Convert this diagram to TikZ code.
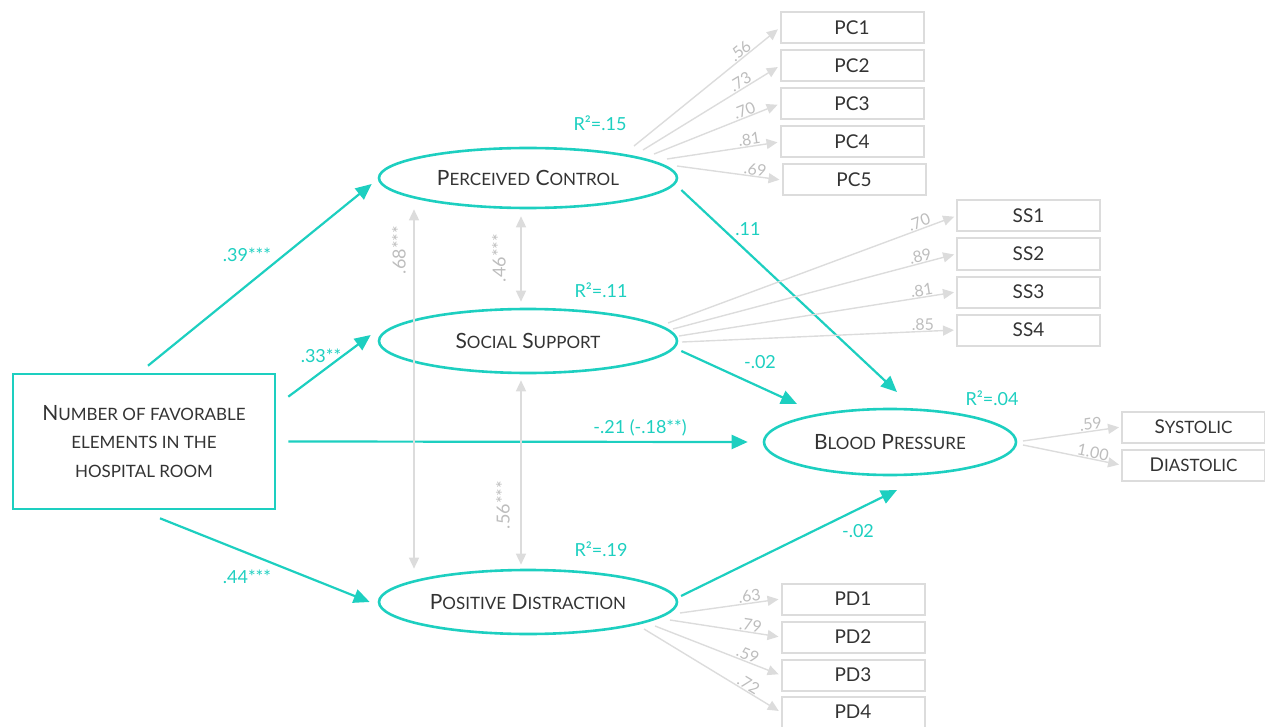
\documentclass[tikz,border=0pt]{standalone}
\usepackage{fontspec}
\setmainfont{Lato}
\usetikzlibrary{arrows.meta,shapes.geometric,calc}
\definecolor{teal1}{HTML}{1DCFC0}
\definecolor{lgray}{HTML}{DCDCDC}
\definecolor{tgray}{HTML}{BDBDBD}
\definecolor{ink}{HTML}{333333}
\newcommand\sm[1]{{\fontsize{17}{20}\selectfont #1}}
\begin{document}
\begin{tikzpicture}[x=1pt,y=-1pt,
  lat/.style={ellipse, draw=teal1, line width=2.6pt, minimum width=298pt, minimum height=60pt, inner sep=0pt, font=\fontsize{21}{24}\selectfont, text=ink},
  ind/.style={draw=lgray, line width=2pt, minimum width=143pt, minimum height=31pt, inner sep=0pt, font=\fontsize{19}{22}\selectfont, text=ink},
  tpath/.style={draw=teal1, line width=2.2pt, -{Triangle[length=16pt,width=14pt]}},
  load/.style={draw=lgray, line width=1.4pt, -{Triangle[length=11pt,width=10pt]}, shorten >=2pt},
  cov/.style={draw=lgray, line width=1.4pt, {Triangle[length=11pt,width=10pt]}-{Triangle[length=11pt,width=10pt]}},
  tlab/.style={text=teal1, font=\fontsize{18}{20}\selectfont, inner sep=0pt},
  glab/.style={text=tgray, font=\fontsize{16}{18}\selectfont, sloped, above, inner sep=0.5pt},
  vlab/.style={text=tgray, font=\fontsize{18}{20}\selectfont, rotate=90, inner sep=0pt}]
\useasboundingbox (0,0) rectangle (1265,727);

% latent variables
\node[lat] (pc) at (528,178) {P\sm{ERCEIVED} C\sm{ONTROL}};
\node[lat, minimum height=64pt] (ss) at (528,341) {S\sm{OCIAL} S\sm{UPPORT}};
\node[lat, minimum height=64pt] (pd) at (528,602) {P\sm{OSITIVE} D\sm{ISTRACTION}};
\node[lat, minimum width=252pt, minimum height=66pt] (bp) at (890,442) {B\sm{LOOD} P\sm{RESSURE}};
\node[draw=teal1, line width=2.6pt, minimum width=262pt, minimum height=135pt, align=center, text=ink, font=\fontsize{21}{28.5}\selectfont] (nb) at (144,441.5)
  {N\sm{UMBER OF FAVORABLE}\\ \sm{ELEMENTS IN THE}\\ \sm{HOSPITAL ROOM}};

% indicators
\node[ind] (pc1) at (852,28) {PC1};
\node[ind] (pc2) at (852,66) {PC2};
\node[ind] (pc3) at (852,104) {PC3};
\node[ind] (pc4) at (852,142) {PC4};
\node[ind] (pc5) at (854,180) {PC5};
\node[ind] (ss1) at (1028.5,216) {SS1};
\node[ind] (ss2) at (1028.5,254) {SS2};
\node[ind] (ss3) at (1028.5,292) {SS3};
\node[ind] (ss4) at (1028.5,330) {SS4};
\node[ind] (sys) at (1193.5,427) {S\sm{YSTOLIC}};
\node[ind] (dia) at (1193.5,465) {D\sm{IASTOLIC}};
\node[ind] (pd1) at (853,599) {PD1};
\node[ind] (pd2) at (853,637) {PD2};
\node[ind] (pd3) at (853,675) {PD3};
\node[ind] (pd4) at (853,712) {PD4};

% structural paths
\draw[tpath] ([shift={(4,-7)}]nb.north) -- ([shift={(-6,6)}]pc.west);
\draw[tpath] ([shift={(12,24)}]nb.north east) -- ([shift={(-7,-6)}]ss.west);
\draw[tpath] ([shift={(12,0)}]nb.east) -- ([shift={(-15,0)}]bp.west);
\draw[tpath] ([shift={(16,8)}]nb.south) -- ([shift={(-8,0)}]pd.west);
\draw[tpath] ([shift={(3,12)}]pc.east) -- ([shift={(7,-50)}]bp.center);
\draw[tpath] ([shift={(3,10)}]ss.east) -- ([shift={(-93,-38)}]bp.center);
\draw[tpath] ([shift={(153,-6)}]pd.center) -- ([shift={(7,48)}]bp.center);

\node[tlab] (l1) at (247,255) {.39***};
\node[tlab] (l2) at (321,356) {.33**};
\node[tlab] (l3) at (640,428) {-.21 (-.18**)};
\node[tlab] (l4) at (247,577) {.44***};
\node[tlab] (l5) at (748,229) {.11};
\node[tlab] (l6) at (760,362) {-.02};
\node[tlab] (l7) at (858,531) {-.02};

\node[tlab] (r1) at (600,123) {R²=.15};
\node[tlab] (r2) at (601,290) {R²=.11};
\node[tlab] (r3) at (601,549) {R²=.19};
\node[tlab] (r4) at (992,398) {R²=.04};

% covariances
\draw[cov] ([shift={(-114,0)}]pc.south) -- ([shift={(-114,0)}]pd.north);
\draw[cov] ([shift={(-7,7)}]pc.south) -- ([shift={(-7,-6)}]ss.north);
\draw[cov] ([shift={(-7,6)}]ss.south) -- ([shift={(-7,-4)}]pd.north);
\node[vlab] (c1) at (399,250) {.68***};
\node[vlab] (c2) at (499,258) {.46***};
\node[vlab] (c3) at (503,505) {.56***};

% loadings
\draw[load] ([shift={(106,-32)}]pc.center) -- node[glab,pos=.76]{.56} (pc1.west);
\draw[load] ([shift={(115,-28)}]pc.center) -- node[glab,pos=.74]{.73} (pc2.west);
\draw[load] ([shift={(126,-24)}]pc.center) -- node[glab,pos=.74]{.70} (pc3.west);
\draw[load] ([shift={(139,-19)}]pc.center) -- node[glab,pos=.74]{.81} (pc4.west);
\draw[load] ([shift={(149,-12)}]pc.center) -- node[glab,pos=.74]{.69} (pc5.west);

\draw[load] ([shift={(140,-18)}]ss.center) -- node[glab,pos=.88]{.70} (ss1.west);
\draw[load] ([shift={(145,-12)}]ss.center) -- node[glab,pos=.88]{.89} (ss2.west);
\draw[load] ([shift={(151,-5)}]ss.center) -- node[glab,pos=.88]{.81} (ss3.west);
\draw[load] ([shift={(154,1)}]ss.center) -- node[glab,pos=.88]{.85} (ss4.west);

\draw[load] ([shift={(133,-1)}]bp.center) -- node[glab,pos=.7]{.59} (sys.west);
\draw[load] ([shift={(133,3)}]bp.center) -- node[glab,pos=.7]{1.00} (dia.west);

\draw[load] ([shift={(152,11)}]pd.center) -- node[glab,pos=.7]{.63} (pd1.west);
\draw[load] ([shift={(142,18)}]pd.center) -- node[glab,pos=.72]{.79} (pd2.west);
\draw[load] ([shift={(127,24)}]pd.center) -- node[glab,pos=.72]{.59} (pd3.west);
\draw[load] ([shift={(116,27)}]pd.center) -- node[glab,pos=.74]{.72} (pd4.west);
\end{tikzpicture}
\end{document}
